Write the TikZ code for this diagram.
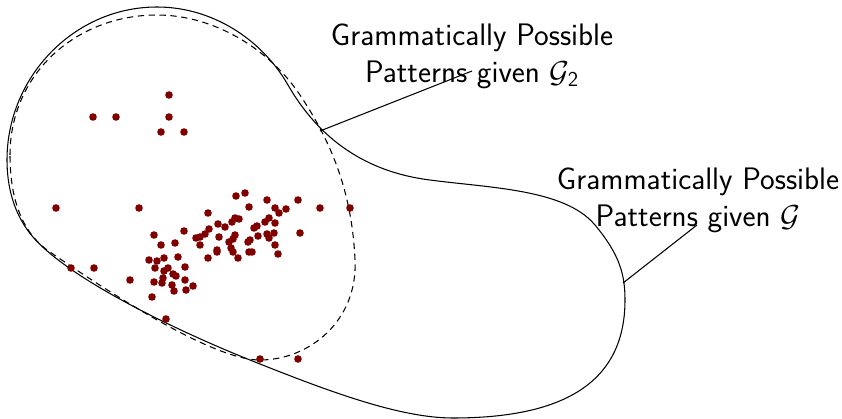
\documentclass[tikz,border=0pt]{standalone}
\definecolor{dotred}{RGB}{128,0,0}
\begin{document}
\begin{tikzpicture}[
        x=0.02cm, y=-0.02cm,
        font=\sffamily\fontsize{17.7}{21}\selectfont,
        region/.style   ={line width=0.6pt},
        subregion/.style={dash pattern=on 3.6pt off 2.6pt, line width=0.6pt},
        obs/.style      ={fill=dotred},
        callout/.style  ={align=center, inner sep=0pt},
        lead/.style     ={line width=0.6pt},
    ]
    \useasboundingbox (0,0) rectangle (842,419);

    %% Region of G (solid)
    \draw[region] (7,160) .. controls (7,77) and (74,7) .. (157,7)
        .. controls (211,7) and (261,38) .. (288,85)
        .. controls (310,123) and (350,170) .. (430,180)
        .. controls (490,188) and (565,189) .. (595,225)
        .. controls (620,255) and (625,275) .. (625,300)
        .. controls (625,385) and (560,418) .. (453,418)
        .. controls (400,418) and (330,392) .. (250,360)
        .. controls (180,332) and (70,280) .. (33,237)
        .. controls (13,214) and (7,185) .. (7,160) -- cycle;

    %% Region of G_2 (dashed)
    \draw[subregion] (10,155) .. controls (10,74) and (76,15) .. (157,15)
        .. controls (215,15) and (270,50) .. (300,95)
        .. controls (330,140) and (352,190) .. (355,260)
        .. controls (358,320) and (310,360) .. (260,360)
        .. controls (215,360) and (120,300) .. (50,252)
        .. controls (20,232) and (10,195) .. (10,155) -- cycle;

    %% Observed patterns
    \foreach \px/\py in {
        169/95, 93/117, 116/117, 169/117, 161/132, 184/132,
        56/208, 139/208, 236/196, 245/193, 267/200, 298/200, 320/208, 350/208,
        249/207, 275/208, 286/209, 279/213, 208/213, 235/218, 239/219, 232/222,
        265/222, 269/218, 275/223, 218/224, 225/227, 209/229, 184/231, 254/228,
        257/226, 154/235, 196/238, 200/237, 205/234, 219/237, 235/235, 233/239,
        267/234, 274/233, 258/236, 269/238, 300/233, 175/243, 161/245, 200/245,
        229/242, 248/242, 250/240, 231/248, 233/252, 217/250, 217/252, 249/252,
        252/252, 275/245, 278/254, 238/258, 208/258, 178/257, 164/258, 149/260,
        157/261, 185/267, 155/268, 168/268, 164/271, 173/274, 176/276, 71/268,
        94/268, 130/280, 163/278, 154/282, 162/283, 185/280, 172/285, 193/286,
        174/291, 186/290, 152/297, 166/319, 260/359, 298/359}
        \fill[obs] (\px,\py) circle (3.8);

    %% Labels
    \node[callout] (lblsub) at (472,56) {Grammatically Possible\\Patterns given $\mathcal{G}_{\mathsf{2}}$};
    \node[callout] (lblall) at (698,200) {Grammatically Possible\\Patterns given $\mathcal{G}$};

    \coordinate (subtip) at (472,71);
    \coordinate (subpt)  at (320,131);
    \coordinate (alltip) at (697,225);
    \coordinate (allpt)  at (623,283);

    \draw[lead] (subtip) -- (subpt);
    \draw[lead] (alltip) -- (allpt);
\end{tikzpicture}
\end{document}
